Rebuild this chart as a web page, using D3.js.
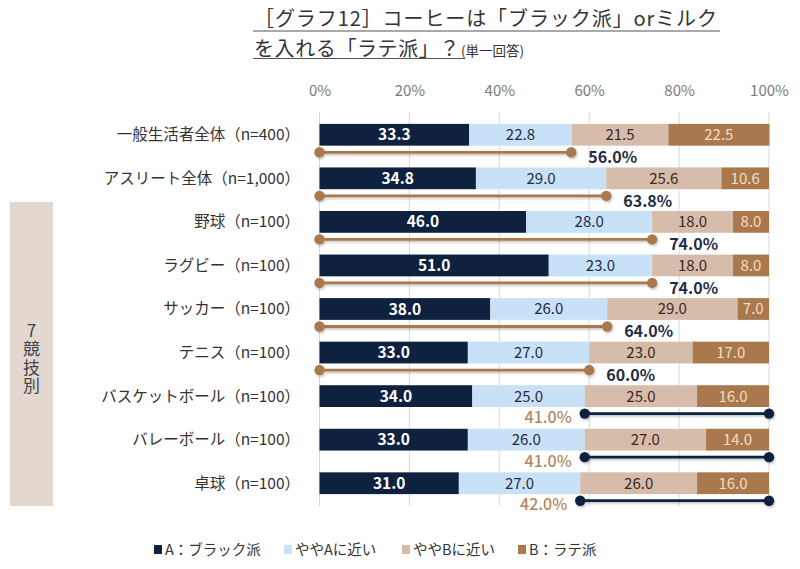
<!DOCTYPE html>
<html><head><meta charset="utf-8">
<script src="https://cdn.jsdelivr.net/npm/d3@7"></script>
<style>
body{margin:0;background:#fff;}
text{font-family:"Noto Sans CJK JP","Noto Sans",sans-serif;}
</style></head>
<body>
<svg id="chart" width="800" height="569"></svg>
<script>
const categories = ['一般生活者全体（n=400）','アスリート全体（n=1,000）','野球（n=100）','ラグビー（n=100）','サッカー（n=100）','テニス（n=100）','バスケットボール（n=100）','バレーボール（n=100）','卓球（n=100）'];
const seriesNames = ['A：ブラック派','ややAに近い','ややBに近い','B：ラテ派'];
const valA = [33.3,34.8,46.0,51.0,38.0,33.0,34.0,33.0,31.0];
const valNearA = [22.8,29.0,28.0,23.0,26.0,27.0,25.0,26.0,27.0];
const valNearB = [21.5,25.6,18.0,18.0,29.0,23.0,25.0,27.0,26.0];
const valB = [22.5,10.6,8.0,8.0,7.0,17.0,16.0,14.0,16.0];
const summary = [56.0,63.8,74.0,74.0,64.0,60.0,41.0,41.0,42.0];
const summarySide = ['A','A','A','A','A','A','B','B','B'];
const ticks = [0,20,40,60,80,100];
const groupLabel = '7競技別';

const colors = ['#0e2240','#c8e1f6','#d6bcab','#a9794d'];
const textColors = ['#ffffff','#1f2d44','#3a2a20','#f7dcc0'];

const svg = d3.select('#chart');
const x = d3.scaleLinear().domain([0,100]).range([319.5,769]);
const y = d3.scaleBand().domain(categories).range([113,505]).paddingInner(0.5).paddingOuter(0.25);

const defs = svg.append('defs');
const f = defs.append('filter').attr('id','sh').attr('x','-10%').attr('y','-100%').attr('width','120%').attr('height','300%');
f.append('feDropShadow').attr('dx',1).attr('dy',1.5).attr('stdDeviation',1.2).attr('flood-color','#000').attr('flood-opacity',0.25);

// Title
const tg = svg.append('g');
tg.append('text').attr('x',254).attr('y',26).attr('font-size',20).attr('fill','#333')
  .attr('textLength',463).attr('lengthAdjust','spacing')
  .text('［グラフ12］コーヒーは「ブラック派」orミルク');
const t2 = tg.append('text').attr('x',254).attr('y',56).attr('fill','#333');
t2.append('tspan').attr('font-size',20).attr('letter-spacing',0.6).text('を入れる「ラテ派」？');
t2.append('tspan').attr('font-size',13.5).attr('dx',1).attr('letter-spacing',0).text('(単一回答)');
tg.append('line').attr('x1',253).attr('x2',720).attr('y1',31).attr('y2',31).attr('stroke','#555').attr('stroke-width',1.2);
tg.append('line').attr('x1',253).attr('x2',465).attr('y1',58.5).attr('y2',58.5).attr('stroke','#555').attr('stroke-width',1.2);

// gridlines
svg.append('g').selectAll('line').data(ticks).join('line')
  .attr('x1',d=>x(d)).attr('x2',d=>x(d)).attr('y1',112).attr('y2',506)
  .attr('stroke','#d9d9d9').attr('stroke-width',1);

// axis
const axis = d3.axisTop(x).tickValues(ticks).tickFormat(d=>d+'%').tickSize(0).tickPadding(0);
const ag = svg.append('g').attr('transform','translate(0,96)').call(axis);
ag.select('.domain').remove();
ag.selectAll('text').attr('font-size',15).attr('fill','#7a7a7a').attr('font-family','"Noto Sans CJK JP","Noto Sans",sans-serif');

// group band
svg.append('rect').attr('x',10).attr('y',202).attr('width',43).attr('height',304).attr('fill','#e3d8d0');
svg.append('text').attr('x',31.5).attr('y',322).attr('font-size',17).attr('fill','#444')
  .style('writing-mode','vertical-rl').style('text-orientation','upright').attr('letter-spacing',1.5)
  .text(groupLabel);

// category labels
svg.append('g').selectAll('text').data(categories).join('text')
  .attr('x',300).attr('y',d=>y(d)+y.bandwidth()/2).attr('dy','0.35em')
  .attr('text-anchor','end').attr('font-size',15.5).attr('fill','#333').text(d=>d);

// stacked bars
const rows = categories.map((c,i)=>({cat:c, vals:[valA[i],valNearA[i],valNearB[i],valB[i]]}));
const segs = [];
rows.forEach(r=>{ let acc=0; r.vals.forEach((v,k)=>{ segs.push({cat:r.cat,k,v,x0:acc,x1:acc+v}); acc+=v; }); });
const bg = svg.append('g');
bg.selectAll('rect').data(segs).join('rect')
  .attr('x',d=>x(d.x0)).attr('width',d=>x(d.x1)-x(d.x0))
  .attr('y',d=>y(d.cat)).attr('height',y.bandwidth())
  .attr('fill',d=>colors[d.k]);
bg.selectAll('text').data(segs).join('text')
  .attr('x',d=>(x(d.x0)+x(d.x1))/2).attr('y',d=>y(d.cat)+y.bandwidth()/2).attr('dy','0.36em')
  .attr('text-anchor','middle').attr('font-size',d=>d.k===0?15.5:15)
  .attr('font-weight',d=>d.k===0?'bold':'normal')
  .attr('fill',d=>textColors[d.k]).text(d=>d.v.toFixed(1));

// summary lines
const lg = svg.append('g');
categories.forEach((c,i)=>{
  const ly = y(c)+y.bandwidth()/2+17.5;
  const isA = summarySide[i]==='A';
  const s = isA ? 0 : 100-summary[i];
  const e = isA ? summary[i] : 100;
  const col = isA ? '#a9794d' : '#0e2240';
  const g = lg.append('g').attr('filter','url(#sh)');
  g.append('line').attr('x1',x(s)).attr('x2',x(e)).attr('y1',ly).attr('y2',ly).attr('stroke',col).attr('stroke-width',2.8);
  g.append('circle').attr('cx',x(s)).attr('cy',ly).attr('r',5.2).attr('fill',col);
  g.append('circle').attr('cx',x(e)).attr('cy',ly).attr('r',5.2).attr('fill',col);
  if(isA){
    lg.append('text').attr('x',x(e)+17).attr('y',ly+5).attr('dy','0.36em').attr('font-size',16).attr('font-weight','bold').attr('fill','#1f2d44').text(summary[i].toFixed(1)+'%');
  } else {
    lg.append('text').attr('x',x(s)-13).attr('y',ly+4).attr('dy','0.36em').attr('text-anchor','end').attr('font-size',16).attr('font-weight','500').attr('fill','#b08a60').text(summary[i].toFixed(1)+'%');
  }
});

// legend
const legX = [154,284,402,518];
const leg = svg.append('g');
seriesNames.forEach((n,k)=>{
  leg.append('rect').attr('x',legX[k]).attr('y',545).attr('width',8).attr('height',9).attr('fill',colors[k]);
  leg.append('text').attr('x',legX[k]+11).attr('y',550).attr('dy','0.36em').attr('font-size',14.5).attr('fill','#333').text(n);
});
</script>
</body></html>
